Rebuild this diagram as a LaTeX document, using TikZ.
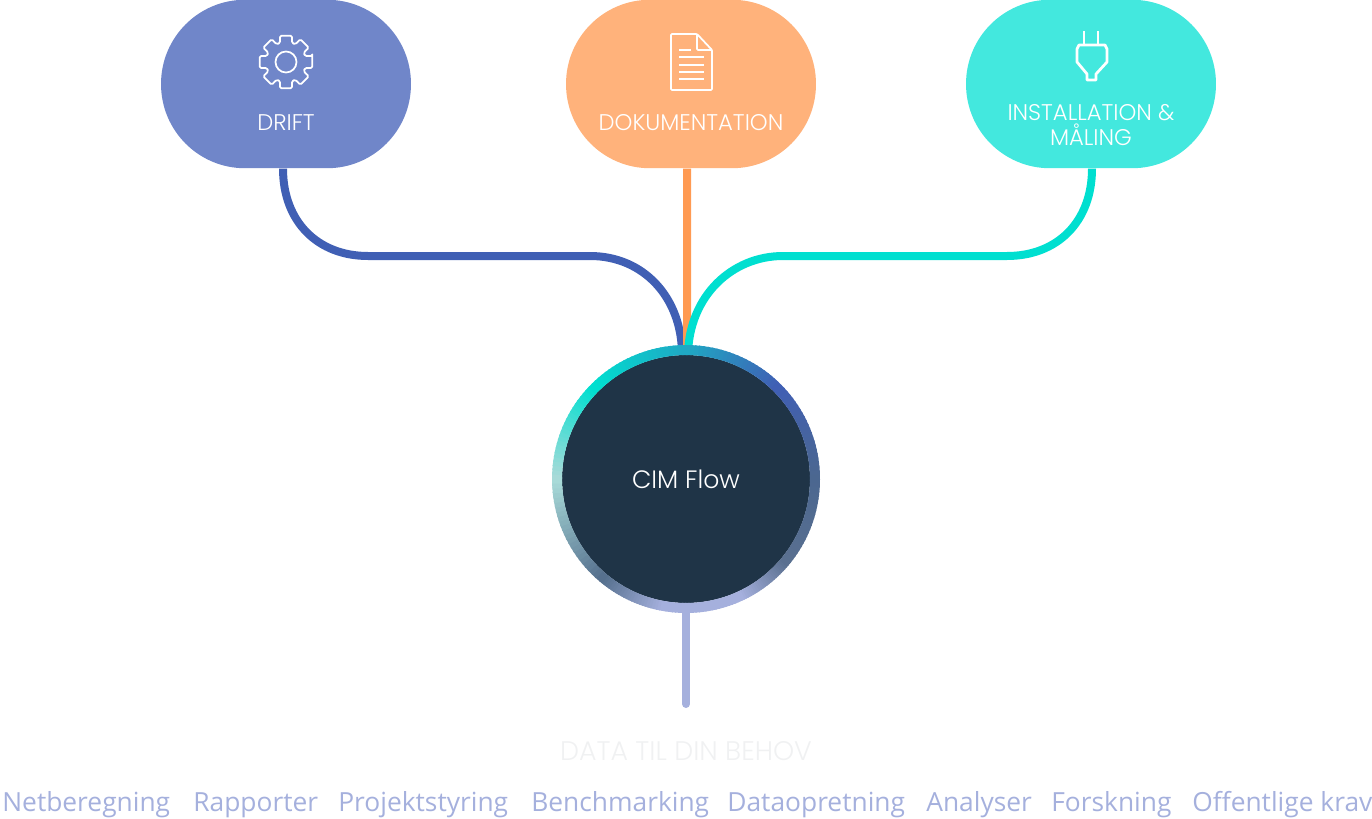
\documentclass[tikz,border=0pt]{standalone}
\usepackage{fontspec}
\setmainfont{Poppins Light}
\newfontfamily\itemfont{Open Sans}
\usepackage{amsmath}

\definecolor{driftfill}{HTML}{7086C9}
\definecolor{driftline}{HTML}{405FB4}
\definecolor{dokfill}{HTML}{FFB27B}
\definecolor{dokline}{HTML}{FF9A52}
\definecolor{instfill}{HTML}{43E8DE}
\definecolor{instline}{HTML}{00DFD0}
\definecolor{cimdark}{HTML}{1F3447}
\definecolor{datablue}{HTML}{A5B0DD}
\definecolor{datagrey}{HTML}{F0F1F2}
\definecolor{ringa}{HTML}{4B6790}
\definecolor{ringb}{HTML}{5A7090}
\definecolor{ringc}{HTML}{56708E}
\definecolor{ringd}{HTML}{A8DAD8}
\definecolor{ringe}{HTML}{1FA8C4}

\tikzset{
	pill/.style={minimum width=5cm,minimum height=3.37cm,rounded corners=1.68cm,inner sep=0pt},
	pilltext/.style={text=white,font=\fontsize{12.9}{14.3}\selectfont,align=center,inner sep=0pt},
	link/.style={line width=0.16cm},
	icon/.style={draw=white,line width=0.035cm,line join=round},
	itemtext/.style={text=datablue,font=\itemfont\fontsize{15}{16}\selectfont,anchor=base west,inner sep=0pt}
}

\begin{document}
\begin{tikzpicture}[x=0.02cm,y=-0.02cm]
	\useasboundingbox (0,0) rectangle (1372,818);
	% the three boxes
	\node[pill,fill=driftfill] (drift) at (286,84) {};
	\node[pill,fill=dokfill] (dok) at (691,84) {};
	\node[pill,fill=instfill] (inst) at (1091,84) {};
	\node[circle,fill=cimdark,minimum size=4.96cm,inner sep=0pt] (cim) at (686,479) {};
	\coordinate (dataend) at (686,704);
	% connectors
	\draw[link,driftline] ([xshift=-0.06cm]drift.south) .. controls (283,222) and (318,256) .. (368,256) -- (590,256) .. controls (644,256) and (682,298) .. ([xshift=-0.08cm]cim.north);
	\draw[link,dokline] ([xshift=-0.08cm]dok.south) -- ([xshift=0.02cm]cim.north);
	\draw[link,instline] ([xshift=0.02cm]inst.south) .. controls (1092,222) and (1057,256) .. (1007,256) -- (783,256) .. controls (732,256) and (689,296) .. ([xshift=0.04cm]cim.north);
	\draw[link,datablue,line cap=round] ([yshift=-0.1cm]cim.south) -- (dataend);
	% ring round the circle
	\begin{scope}[shift={(686,479)}]
		\foreach \from/\to/\ca/\cb in {0/40/ringa/ringb,40/65/ringb/datablue,65/100/datablue/datablue,100/130/datablue/ringc,130/180/ringc/ringd,180/225/ringd/instline,225/270/instline/ringe,270/315/ringe/driftline,315/360/driftline/ringa}{
			\foreach \t in {0,...,23}{
				\pgfmathsetmacro{\p}{100*\t/23}
				\pgfmathsetmacro{\aa}{\from+(\to-\from)*\t/24}
				\pgfmathsetmacro{\ab}{\from+(\to-\from)*(\t+1.4)/24}
				\draw[line width=0.2cm,color=\cb!\p!\ca] (\aa:129) -- (\ab:129);
			}
		}
	\end{scope}
	% gear
	\draw[icon,shift={(286,62)},rounded corners=0.03cm] (-13:27) \foreach \a in {0,45,...,315}{ -- (\a-13:27) -- (\a+13:27) -- (\a+17:20) -- (\a+28:20)} -- cycle;
	\node[circle,draw=white,line width=0.035cm,minimum size=0.42cm,inner sep=0pt] (gearhole) at (286,62) {};
	% document
	\draw[icon,rounded corners=0.02cm] (697,34) -- (671,34) -- (671,90) -- (712,90) -- (712,50) -- cycle;
	\draw[icon,rounded corners=0.02cm] (697,34) -- (697,50) -- (712,50);
	\draw[icon] (679,50) -- (691,50);
	\foreach \y in {57,65,72,79}
		\draw[icon] (679,\y) -- (704,\y);
	% plug
	\draw[draw=white,line width=0.055cm,line join=round] (1084,31) -- (1084,45) (1098,31) -- (1098,45);
	\draw[draw=white,line width=0.055cm,line join=round] (1077,49) -- (1079,45) -- (1105,45) -- (1107,49) -- (1107,62) -- (1096,74) -- (1096,80) -- (1087,80) -- (1087,74) -- (1077,62) -- cycle;
	% labels
	\node[pilltext] (driftlabel) at (286,123) {DRIFT};
	\node[pilltext] (doklabel) at (691,123) {DOKUMENTATION};
	\node[pilltext] (instlabel) at (1091,125) {INSTALLATION \&\\MÅLING};
	\node[text=white,font=\fontsize{14.3}{16}\selectfont,inner sep=0pt] (cimlabel) at (686,479) {CIM Flow};
	\node[text=datagrey,font=\fontsize{15.3}{16}\selectfont,inner sep=0pt] (datalabel) at (686,751) {DATA TIL DIN BEHOV};
	% data list
	\foreach \x/\txt [count=\i] in {2/Netberegning,193/Rapporter,338/Projektstyring,531/Benchmarking,727/Dataopretning,926/Analyser,1051/Forskning,1192/Offentlige krav}
		\node[itemtext] (item\i) at (\x,811) {\txt};
\end{tikzpicture}
\end{document}
